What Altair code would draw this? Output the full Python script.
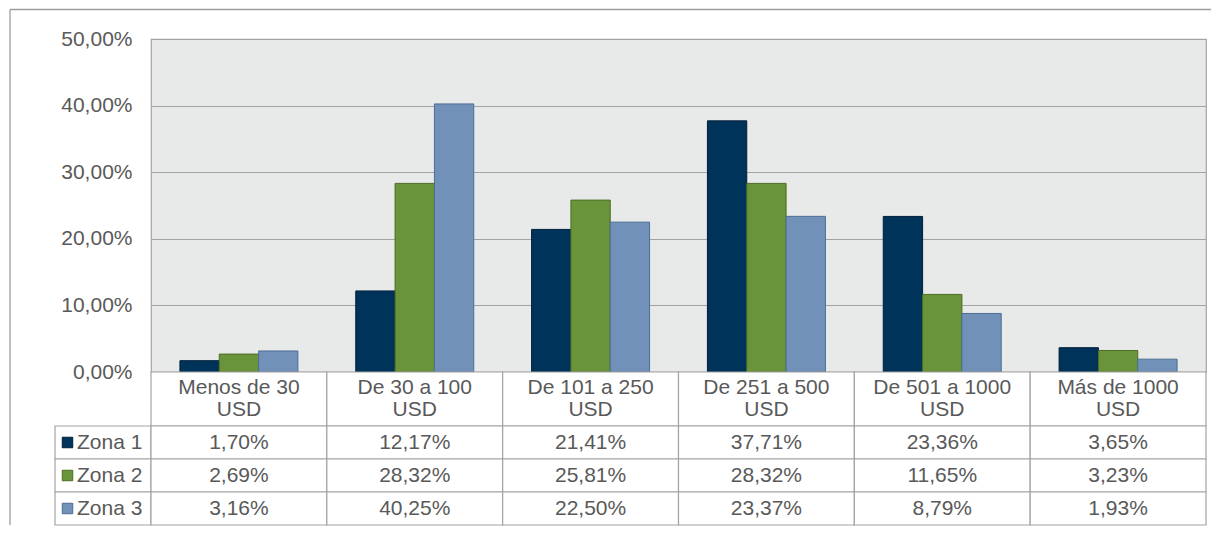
import altair as alt
import pandas as pd

categories = ["Menos de 30\nUSD", "De 30 a 100\nUSD", "De 101 a 250\nUSD",
              "De 251 a 500\nUSD", "De 501 a 1000\nUSD", "Más de 1000\nUSD"]
zonas = ["Zona 1", "Zona 2", "Zona 3"]
zona1 = [1.70, 12.17, 21.41, 37.71, 23.36, 3.65]
zona2 = [2.69, 28.32, 25.81, 28.32, 11.65, 3.23]
zona3 = [3.16, 40.25, 22.50, 23.37, 8.79, 1.93]
y_ticks = [0, 10, 20, 30, 40, 50]

fills = ["#00335a", "#6a9439", "#7191b9"]
strokes = ["#001e38", "#4b6d25", "#4d6d96"]
GRID = "#a3a3a3"
TXT = "#595959"
FONT = "Liberation Sans"
FS = 21

rows = []
for z, vals in zip(zonas, [zona1, zona2, zona3]):
    for c, v in zip(categories, vals):
        rows.append({"cat": c, "zona": z, "val": v})
df = pd.DataFrame(rows)
cat_df = pd.DataFrame({"cat": categories})
zona_df = pd.DataFrame({"zona": zonas})

PW = 1055
LW = 96
PH = 333
HH = 54
RH = 99

color_scale = alt.Scale(domain=zonas, range=fills)
stroke_scale = alt.Scale(domain=zonas, range=strokes)

bars = alt.Chart(df).mark_bar(strokeWidth=1).encode(
    x=alt.X("cat:N", sort=categories, axis=None,
            scale=alt.Scale(paddingInner=0.329, paddingOuter=0.1645)),
    xOffset=alt.XOffset("zona:N", sort=zonas, scale=alt.Scale(paddingInner=0, paddingOuter=0)),
    y=alt.Y("val:Q", title=None,
            scale=alt.Scale(domain=[0, 50], nice=False),
            axis=alt.Axis(values=y_ticks, ticks=False, domain=False, grid=True,
                          gridColor=GRID, gridWidth=1.2, labelPadding=19,
                          labelFontSize=FS, labelColor=TXT, labelFont=FONT,
                          labelExpr="replace(format(datum.value, '.2f'), '.', ',') + '%'")),
    color=alt.Color("zona:N", scale=color_scale, legend=None),
    stroke=alt.Stroke("zona:N", scale=stroke_scale, legend=None),
).properties(width=PW, height=PH,
             view=alt.ViewBackground(fill="#e8e9e9", stroke=GRID, strokeWidth=1.2))

def placeholder(w, h):
    return alt.Chart(pd.DataFrame({"v": [0]})).mark_point(opacity=0).encode(
        x=alt.X("v:Q", axis=None), y=alt.Y("v:Q", axis=None)
    ).properties(width=w, height=h)

# outer chart frame (top and left edges), drawn from the top-left cell
frame_src = alt.Chart(pd.DataFrame({"v": [0]}))
frame = alt.layer(
    placeholder(LW, PH),
    frame_src.mark_rule(color="#9d9d9d", strokeWidth=1.3).encode(
        x=alt.value(-45), y=alt.value(-29.5), y2=alt.value(PH + HH + RH)),
    frame_src.mark_rule(color="#9d9d9d", strokeWidth=1.3).encode(
        x=alt.value(-45), x2=alt.value(LW + PW + 5), y=alt.value(-29.5)),
).properties(width=LW, height=PH)

cat_x = alt.X("cat:N", sort=categories, axis=None,
              scale=alt.Scale(paddingInner=0, paddingOuter=0))

hdr_base = alt.Chart(cat_df).encode(x=cat_x)
header = alt.layer(
    hdr_base.mark_rect(fill="white", stroke=GRID, strokeWidth=1.2),
    hdr_base.mark_text(lineBreak="\n", fontSize=FS, font=FONT, color=TXT,
                       lineHeight=21.5, baseline="middle", dy=-11).encode(text="cat:N"),
).properties(width=PW, height=HH)

zona_y = alt.Y("zona:N", sort=zonas, axis=None,
               scale=alt.Scale(paddingInner=0, paddingOuter=0))

val_base = alt.Chart(df).transform_calculate(
    label="replace(format(datum.val, '.2f'), '.', ',') + '%'"
).encode(x=cat_x, y=zona_y)
table = alt.layer(
    val_base.mark_rect(fill="white", stroke=GRID, strokeWidth=1.2),
    val_base.mark_text(fontSize=FS, font=FONT, color=TXT, baseline="middle").encode(text="label:N"),
).properties(width=PW, height=RH)

leg_base = alt.Chart(zona_df).encode(y=zona_y)
legend = alt.layer(
    leg_base.mark_rect(fill="white", stroke=GRID, strokeWidth=1.2).encode(
        x=alt.value(0), x2=alt.value(LW)),
    leg_base.mark_square(size=110, strokeWidth=1, opacity=1).encode(
        x=alt.value(12.5),
        color=alt.Color("zona:N", scale=color_scale, legend=None),
        stroke=alt.Stroke("zona:N", scale=stroke_scale, legend=None)),
    leg_base.mark_text(align="left", baseline="middle", fontSize=FS, font=FONT,
                       color=TXT).encode(x=alt.value(22), text="zona:N"),
).properties(width=LW, height=RH)

chart = alt.concat(
    frame, bars,
    placeholder(LW, HH), header,
    legend, table,
    columns=2, spacing=0, bounds="flush",
).properties(
    padding={"left": 0, "top": 0, "right": 0, "bottom": 0}
).configure_view(stroke="transparent")

chart.save("out.html", embed_options={"renderer": "svg", "actions": False})
